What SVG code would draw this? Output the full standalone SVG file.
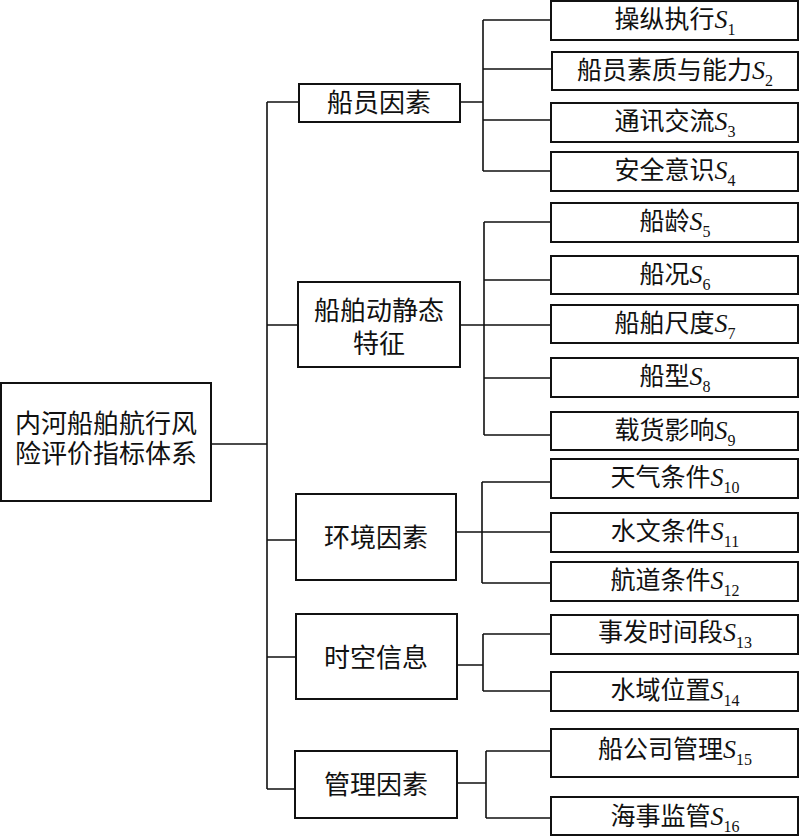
<svg xmlns="http://www.w3.org/2000/svg" width="800" height="839" viewBox="0 0 800 839">
<style>
rect{fill:#fff;stroke:#111;stroke-width:2}
#connectors path{fill:none;stroke:#111;stroke-width:1.6}
text{font-family:"Noto Sans CJK SC","Noto Sans CJK JP",sans-serif;fill:#111;text-anchor:middle}
.m{font-size:26px}
.l{font-size:25px}
.s{font-family:"Liberation Serif",serif;font-style:italic;font-size:26px}
.d{font-family:"Liberation Serif",serif;font-size:16px}
</style>
<rect x="0" y="0" width="800" height="839" style="stroke:none"/>
<g id="connectors">
<path d="M211,444H267M267,102V789M267,102H299M267,325H298M267,540H296M267,657H296M267,789H295"/>
<path d="M460,102H483M483,20V171M483,20H551M483,69H552M483,120H551M483,171H551"/>
<path d="M460,325H484M484,222V435M484,222H551M484,280H551M484,325H551M484,378H551M484,435H551"/>
<path d="M456,532H482M482,482V583M482,482H551M482,532H551M482,583H551"/>
<path d="M457,665H483M483,634V691M483,634H551M483,691H551"/>
<path d="M457,783H486M486,751V818M486,751H551M486,818H551"/>
</g>
<g id="root"><rect x="1" y="383" width="210" height="118"/>
<text class="m" x="106" y="433">内河船舶航行风<tspan x="106" dy="30">险评价指标体系</tspan></text></g>
<g id="crew"><rect x="299" y="84" width="161" height="38"/><text class="m" x="379" y="112">船员因素</text></g>
<g id="ship"><rect x="298" y="282" width="162" height="85"/><text class="m" x="379" y="320">船舶动静态<tspan x="379" dy="33">特征</tspan></text></g>
<g id="env"><rect x="296" y="494" width="160" height="86"/><text class="m" x="376" y="547">环境因素</text></g>
<g id="space"><rect x="296" y="614" width="161" height="85"/><text class="m" x="376" y="667">时空信息</text></g>
<g id="mgmt"><rect x="295" y="751" width="162" height="67"/><text class="m" x="376" y="794">管理因素</text></g>
<g id="s1"><rect x="551" y="1" width="247" height="39"/><text class="l" x="675" y="28">操纵执行<tspan class="s">S</tspan><tspan class="d" dy="7">1</tspan></text></g>
<g id="s2"><rect x="552" y="52" width="246" height="38"/><text class="l" x="675" y="79">船员素质与能力<tspan class="s">S</tspan><tspan class="d" dy="7">2</tspan></text></g>
<g id="s3"><rect x="551" y="103" width="247" height="39"/><text class="l" x="675" y="130">通讯交流<tspan class="s">S</tspan><tspan class="d" dy="7">3</tspan></text></g>
<g id="s4"><rect x="551" y="152" width="247" height="39"/><text class="l" x="675" y="179">安全意识<tspan class="s">S</tspan><tspan class="d" dy="7">4</tspan></text></g>
<g id="s5"><rect x="551" y="203" width="247" height="39"/><text class="l" x="675" y="230">船龄<tspan class="s">S</tspan><tspan class="d" dy="7">5</tspan></text></g>
<g id="s6"><rect x="551" y="256" width="247" height="38"/><text class="l" x="675" y="283">船况<tspan class="s">S</tspan><tspan class="d" dy="7">6</tspan></text></g>
<g id="s7"><rect x="551" y="305" width="247" height="38"/><text class="l" x="675" y="332">船舶尺度<tspan class="s">S</tspan><tspan class="d" dy="7">7</tspan></text></g>
<g id="s8"><rect x="551" y="358" width="247" height="39"/><text class="l" x="675" y="385">船型<tspan class="s">S</tspan><tspan class="d" dy="7">8</tspan></text></g>
<g id="s9"><rect x="551" y="412" width="247" height="38"/><text class="l" x="675" y="439">载货影响<tspan class="s">S</tspan><tspan class="d" dy="7">9</tspan></text></g>
<g id="s10"><rect x="551" y="459" width="247" height="39"/><text class="l" x="675" y="486">天气条件<tspan class="s">S</tspan><tspan class="d" dy="7">10</tspan></text></g>
<g id="s11"><rect x="551" y="513" width="247" height="39"/><text class="l" x="675" y="540">水文条件<tspan class="s">S</tspan><tspan class="d" dy="7">11</tspan></text></g>
<g id="s12"><rect x="551" y="562" width="247" height="39"/><text class="l" x="675" y="589">航道条件<tspan class="s">S</tspan><tspan class="d" dy="7">12</tspan></text></g>
<g id="s13"><rect x="551" y="615" width="247" height="39"/><text class="l" x="675" y="641">事发时间段<tspan class="s">S</tspan><tspan class="d" dy="7">13</tspan></text></g>
<g id="s14"><rect x="551" y="672" width="247" height="39"/><text class="l" x="675" y="699">水域位置<tspan class="s">S</tspan><tspan class="d" dy="7">14</tspan></text></g>
<g id="s15"><rect x="551" y="729" width="247" height="48"/><text class="l" x="675" y="758">船公司管理<tspan class="s">S</tspan><tspan class="d" dy="7">15</tspan></text></g>
<g id="s16"><rect x="551" y="797" width="247" height="38"/><text class="l" x="675" y="825">海事监管<tspan class="s">S</tspan><tspan class="d" dy="7">16</tspan></text></g>
</svg>
